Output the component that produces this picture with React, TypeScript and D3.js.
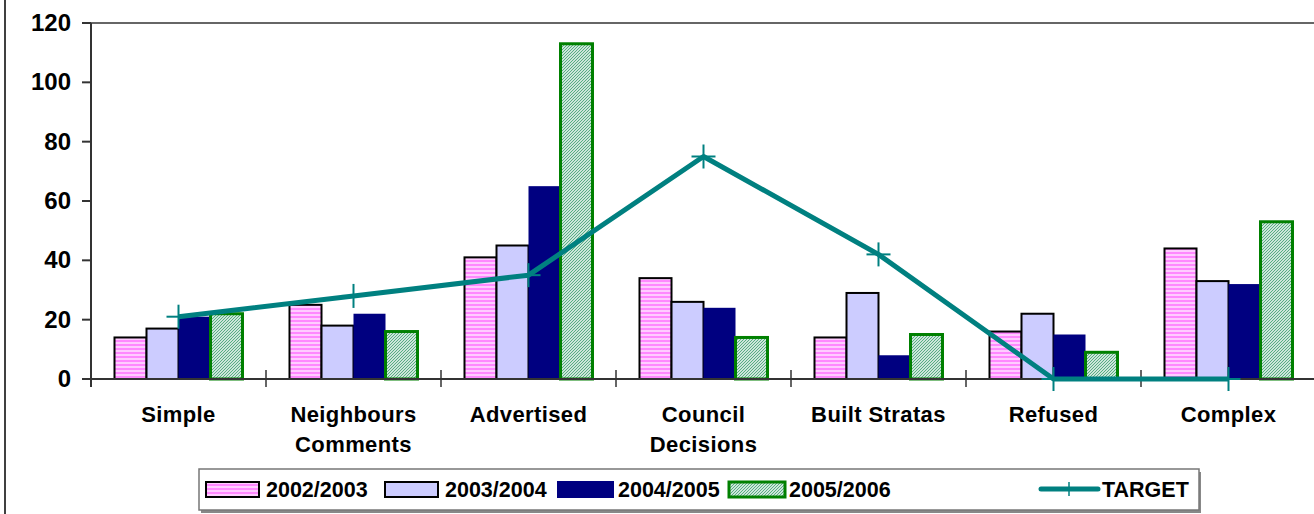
import React from "react";
import * as d3 from "d3";

const categories = ["Simple", "Neighbours\nComments", "Advertised", "Council\nDecisions", "Built Stratas", "Refused", "Complex"];
const series = ["2002/2003", "2003/2004", "2004/2005", "2005/2006"];
const v2002 = [14, 25, 41, 34, 14, 16, 44];
const v2003 = [17, 18, 45, 26, 29, 22, 33];
const v2004 = [21, 22, 65, 24, 8, 15, 32];
const v2005 = [22, 16, 113, 14, 15, 9, 53];
const target = [21, 28, 35, 75, 42, 0, 0];
const yTicks = [0, 20, 40, 60, 80, 100, 120];

const values = [v2002, v2003, v2004, v2005];
const fills = ["url(#pinkStripe)", "#CCCCFF", "#000080", "url(#greenHatch)"];
const strokes = ["#000", "#000", "none", "#008000"];
const strokeW = [2, 2, 0, 3];
const FONT = "'Liberation Sans', Arial, sans-serif";

export default function App() {
  const W = 1314, H = 514;
  const left = 91, top = 23, bottom = 379;
  const x = d3.scaleBand<string>().domain(categories).range([left, left + 7 * 175]).padding(0);
  const y = d3.scaleLinear().domain([0, 120]).range([bottom, top]);
  const bw = 32;
  const cx = (c: string) => (x(c) as number) + x.bandwidth() / 2;
  const line = d3.line<number>().x((_, i) => cx(categories[i])).y((d) => y(d));

  const legendItems = [
    { sx: 206, tx: 266, w: 53 },
    { sx: 385, tx: 445, w: 53 },
    { sx: 558, tx: 618, w: 55 },
    { sx: 729, tx: 789, w: 56 },
  ];

  return (
    <svg width={W} height={H} style={{ position: "absolute", left: 0, top: 0, display: "block", background: "#fff" }} fontFamily={FONT}>
      <defs>
        <pattern id="pinkStripe" width="6" height="4" patternUnits="userSpaceOnUse">
          <rect width="6" height="4" fill="#FFCCFF" />
          <rect y="0" width="6" height="2" fill="#FF88FF" />
        </pattern>
        <pattern id="greenHatch" width="3" height="3" patternUnits="userSpaceOnUse">
          <rect width="3" height="3" fill="#fff" />
          <path d="M-1,1 l2,-2 M0,3 l3,-3 M2,4 l2,-2" stroke="#4FA87C" strokeWidth="1.1" />
        </pattern>
      </defs>

      {/* chart border */}
      <line x1={5} x2={5} y1={0} y2={H} stroke="#000" strokeWidth={1.5} />

      {/* plot top border */}
      <line x1={left} x2={W} y1={top} y2={top} stroke="#666" strokeWidth={2} />

      {/* bars */}
      {categories.map((c, ci) => (
        <g key={c}>
          {values.map((vals, si) => {
            const x0 = cx(c) - 2 * bw + si * bw;
            const yt = y(vals[ci]);
            return (
              <rect key={si} x={x0} y={yt} width={bw} height={bottom - yt}
                fill={fills[si]} stroke={strokes[si]} strokeWidth={strokeW[si]} />
            );
          })}
        </g>
      ))}

      {/* y axis */}
      <line x1={left} x2={left} y1={top} y2={387} stroke="#333" strokeWidth={2} />
      {yTicks.map((t) => (
        <g key={t}>
          <line x1={82} x2={left} y1={y(t)} y2={y(t)} stroke="#333" strokeWidth={2} />
          <text x={71} y={y(t) + 8} textAnchor="end" fontSize={24} fontWeight="bold" fill="#000">{t}</text>
        </g>
      ))}

      {/* x axis */}
      <line x1={82} x2={W} y1={bottom} y2={bottom} stroke="#333" strokeWidth={2} />
      {categories.map((c, i) => i > 0 ? (
        <line key={c} x1={x(c) as number} x2={x(c) as number} y1={370} y2={387} stroke="#333" strokeWidth={1.5} />
      ) : null)}

      {/* category labels */}
      {categories.map((c) => (
        <text key={c} x={cx(c)} y={422} textAnchor="middle" fontSize={22} fontWeight="bold" letterSpacing={0.4} fill="#000">
          {c.split("\n").map((ln, li) => (
            <tspan key={li} x={cx(c)} dy={li === 0 ? 0 : 30}>{ln}</tspan>
          ))}
        </text>
      ))}

      {/* target line */}
      <path d={line(target) || ""} fill="none" stroke="#008080" strokeWidth={5} strokeLinejoin="round" />
      {target.map((t, i) => (
        <g key={i} stroke="#008080" strokeWidth={2}>
          <line x1={cx(categories[i]) - 12} x2={cx(categories[i]) + 12} y1={y(t)} y2={y(t)} />
          <line x1={cx(categories[i])} x2={cx(categories[i])} y1={y(t) - 12} y2={y(t) + 12} />
        </g>
      ))}

      {/* legend */}
      <rect x={201} y={472} width={1000} height={41} fill="#888" />
      <rect x={199} y={469} width={1000} height={41} fill="#fff" stroke="#777" strokeWidth={1.5} />
      {series.map((s, i) => (
        <g key={s}>
          <rect x={legendItems[i].sx} y={482} width={legendItems[i].w} height={15}
            fill={fills[i]} stroke={i === 2 ? "#000080" : strokes[i]} strokeWidth={i === 3 ? 3 : 2} />
          <text x={legendItems[i].tx} y={497} fontSize={21.5} fontWeight="bold" fill="#000">{s}</text>
        </g>
      ))}
      <line x1={1041} x2={1098} y1={489} y2={489} stroke="#008080" strokeWidth={5} strokeLinecap="round" />
      <line x1={1069} x2={1069} y1={482} y2={496} stroke="#008080" strokeWidth={1.5} />
      <text x={1102} y={497} fontSize={21.5} fontWeight="bold" fill="#000">TARGET</text>
    </svg>
  );
}
